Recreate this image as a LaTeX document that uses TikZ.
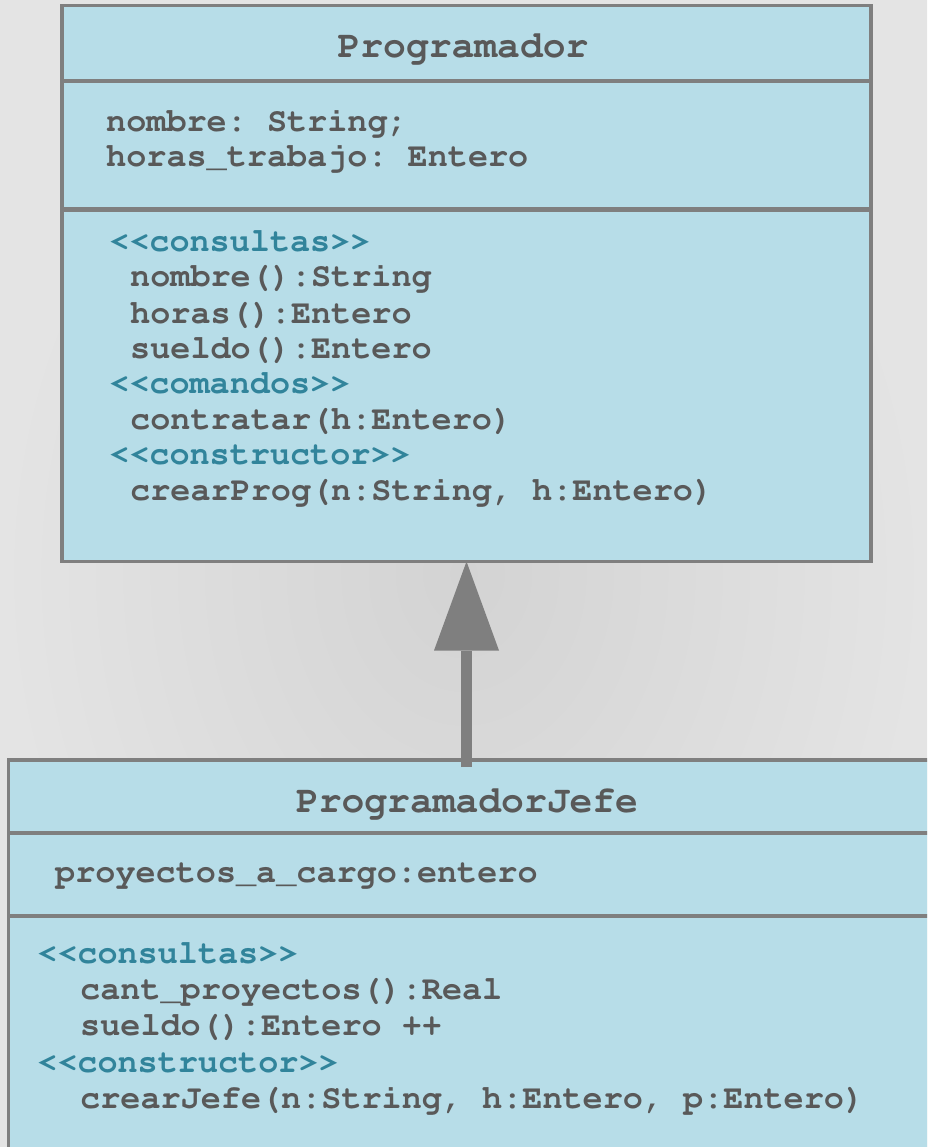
\documentclass[tikz,border=0pt]{standalone}
\usepackage[T1]{fontenc}
\usepackage{courier}
\usetikzlibrary{arrows.meta}
\definecolor{boxfill}{HTML}{B7DDE8}
\definecolor{boxline}{HTML}{7F7F7F}
\definecolor{txt}{HTML}{595959}
\definecolor{stereo}{HTML}{31849B}
\definecolor{bgin}{HTML}{D3D3D3}
\definecolor{bgout}{HTML}{E4E4E4}
\begin{document}
\frenchspacing
\begin{tikzpicture}[x=1pt,y=-1pt,
  classbox/.style={draw=boxline, fill=boxfill, line width=3.5pt, rectangle,
    inner sep=0pt, outer sep=0pt, anchor=north west},
  sepline/.style={draw=boxline, line width=4.5pt},
  title/.style={font=\ttfamily\bfseries\frenchspacing\fontsize{38}{40}\selectfont, text=txt,
    anchor=base, inner sep=0pt},
  member/.style={font=\ttfamily\bfseries\frenchspacing\fontsize{33.5}{36}\selectfont, text=txt,
    anchor=base west, inner sep=0pt},
  stereotype/.style={member, text=stereo},
  inherit/.style={draw=boxline, line width=11pt,
    -{Triangle[length=89pt,width=65pt,line width=0pt]}}
]
\useasboundingbox (0,0) rectangle (927,1147);
\clip (0,0) rectangle (927,1147);
\shade[inner color=bgin, outer color=bgout] (0,0) rectangle (927,1147);

% Programador
\node[classbox, minimum width=809pt, minimum height=556pt] (prog) at (62,5.5) {};
\draw[sepline] (prog.west |- 0,81) -- (prog.east |- 0,81);
\draw[sepline] (prog.west |- 0,209.5) -- (prog.east |- 0,209.5);
\node[title] (progT) at (463,58) {Programador};
\node[member] (a1) at (106,132) {nombre: String;};
\node[member] (a2) at (106,167) {horas\_trabajo: Entero};
\node[stereotype] (s1) at (109,252) {<{}<consultas>{}>};
\node[member] (m1) at (130,287) {nombre():String};
\node[member] (m2) at (130,323) {horas():Entero};
\node[member] (m3) at (130,358) {sueldo():Entero};
\node[stereotype] (s2) at (109,393) {<{}<comandos>{}>};
\node[member] (m4) at (130,429) {contratar(h:Entero)};
\node[stereotype] (s3) at (109,464) {<{}<constructor>{}>};
\node[member] (m5) at (130,500) {crearProg(n:String, h:Entero)};

% ProgramadorJefe
\node[classbox, minimum width=940pt, minimum height=420pt] (jefe) at (8.5,760) {};
\draw[sepline] (jefe.west |- 0,833) -- (jefe.east |- 0,833);
\draw[sepline] (jefe.west |- 0,916) -- (jefe.east |- 0,916);
\node[title] (jefeT) at (467,812) {ProgramadorJefe};
\node[member] (b1) at (55,882) {proyectos\_a\_cargo:entero};
\node[stereotype] (s4) at (37,963) {<{}<consultas>{}>};
\node[member] (m6) at (80,999) {cant\_proyectos():Real};
\node[member] (m7) at (80,1035) {sueldo():Entero ++};
\node[stereotype] (s5) at (37,1072) {<{}<constructor>{}>};
\node[member] (m8) at (80,1108) {crearJefe(n:String, h:Entero, p:Entero)};

% generalization
\draw[inherit] ([yshift=-7pt]prog.south |- jefe.north) -- (prog.south);
\end{tikzpicture}
\end{document}
